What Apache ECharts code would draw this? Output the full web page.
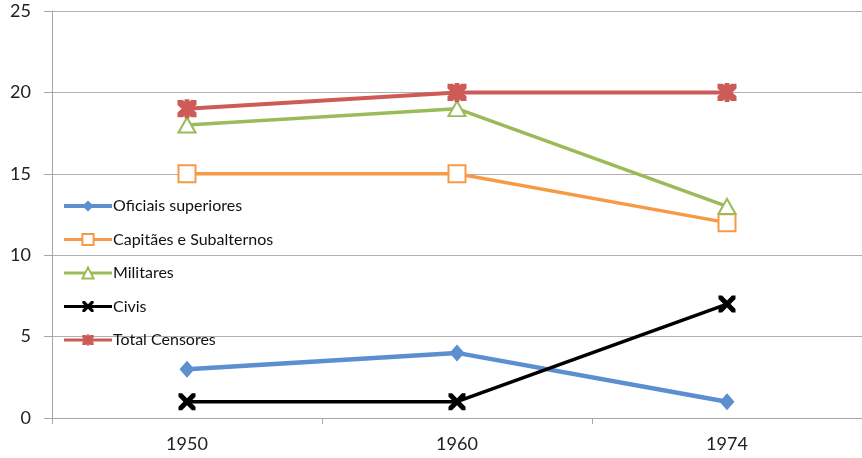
<!DOCTYPE html>
<html><head><meta charset="utf-8">
<script src="https://cdn.jsdelivr.net/npm/echarts@6/dist/echarts.min.js"></script>
<style>html,body{margin:0;padding:0;background:#fff}#c{width:862px;height:458px}</style>
</head><body><div id="c"></div>
<script>
const categories = ['1950', '1960', '1974'];
const yTicks = [0, 5, 10, 15, 20, 25];
const oficiais = [3, 4, 1];
const capitaes = [15, 15, 12];
const militares = [18, 19, 13];
const civis = [1, 1, 7];
const total = [19, 20, 20];
const seriesNames = ['Oficiais superiores', 'Capitães e Subalternos', 'Militares', 'Civis', 'Total Censores'];

const xPath = 'path://M0,0 L2.1,0 L5,2.9 L7.9,0 L10,0 L10,2.1 L7.1,5 L10,7.9 L10,10 L7.9,10 L5,7.1 L2.1,10 L0,10 L0,7.9 L2.9,5 L0,2.1 Z';
const starPath = 'path://M0,0 L2.8,0 L5,2.2 L7.2,0 L10,0 L10,2.8 L7.8,5 L10,7.2 L10,10 L7.2,10 L5,7.8 L2.8,10 L0,10 L0,7.2 L2.2,5 L0,2.8 Z M3.7,-0.5 L6.3,-0.5 L6.3,10.5 L3.7,10.5 Z';

const colors = ['#5b8fcf', '#f79a46', '#9bbb59', '#000000', '#cd5b57'];
const widths = [4.5, 3.5, 3.5, 3.5, 4];

const font = 'Lato, "Open Sans", "Liberation Sans", sans-serif';
const chart = echarts.init(document.getElementById('c'), null, {renderer: 'canvas'});
chart.setOption({
  animation: false,
  backgroundColor: '#fff',
  grid: {left: 52, right: -2, top: 11, bottom: 40, containLabel: false},
  legend: {
    orient: 'vertical', left: 57, top: 193,
    itemWidth: 48, itemHeight: 14, itemGap: 17.5,
    textStyle: {fontFamily: font, fontSize: 16, lineHeight: 16, color: '#111', padding: [0, 0, 0, -4]},
    data: seriesNames.map((n, i) => ({name: n, lineStyle: {width: i === 0 ? 4 : 3}}))
  },
  xAxis: {
    type: 'category', data: categories, boundaryGap: true,
    axisLine: {lineStyle: {color: '#a6a6a6', width: 1}},
    axisTick: {show: true, length: 6, lineStyle: {color: '#a6a6a6'}},
    axisLabel: {fontFamily: font, fontSize: 18, color: '#222', margin: 17}
  },
  yAxis: {
    type: 'value', min: yTicks[0], max: yTicks[yTicks.length - 1], interval: 5,
    axisLine: {show: true, lineStyle: {color: '#a6a6a6', width: 1}},
    axisTick: {show: true, length: 8, lineStyle: {color: '#a6a6a6'}},
    splitLine: {lineStyle: {color: '#b0b0b0', width: 1}},
    axisLabel: {fontFamily: font, fontSize: 18, color: '#222', margin: 21}
  },
  series: [
    {name: seriesNames[0], type: 'line', data: oficiais, symbol: 'diamond', symbolSize: [15, 17],
     lineStyle: {color: colors[0], width: widths[0]}, itemStyle: {color: colors[0]}},
    {name: seriesNames[1], type: 'line', data: capitaes, symbol: 'emptyRect', symbolSize: 17,
     lineStyle: {color: colors[1], width: widths[1]}, itemStyle: {color: colors[1], borderWidth: 3.5, borderColor: colors[1]}},
    {name: seriesNames[2], type: 'line', data: militares, symbol: 'emptyTriangle', symbolSize: [17, 15],
     lineStyle: {color: colors[2], width: widths[2]}, itemStyle: {color: colors[2], borderWidth: 3.5, borderColor: colors[2]}},
    {name: seriesNames[3], type: 'line', data: civis, symbol: xPath, symbolSize: 17,
     lineStyle: {color: colors[3], width: widths[3]}, itemStyle: {color: colors[3]}},
    {name: seriesNames[4], type: 'line', data: total, symbol: starPath, symbolSize: 19,
     lineStyle: {color: colors[4], width: widths[4]}, itemStyle: {color: colors[4]}}
  ]
});
</script>
</body></html>
